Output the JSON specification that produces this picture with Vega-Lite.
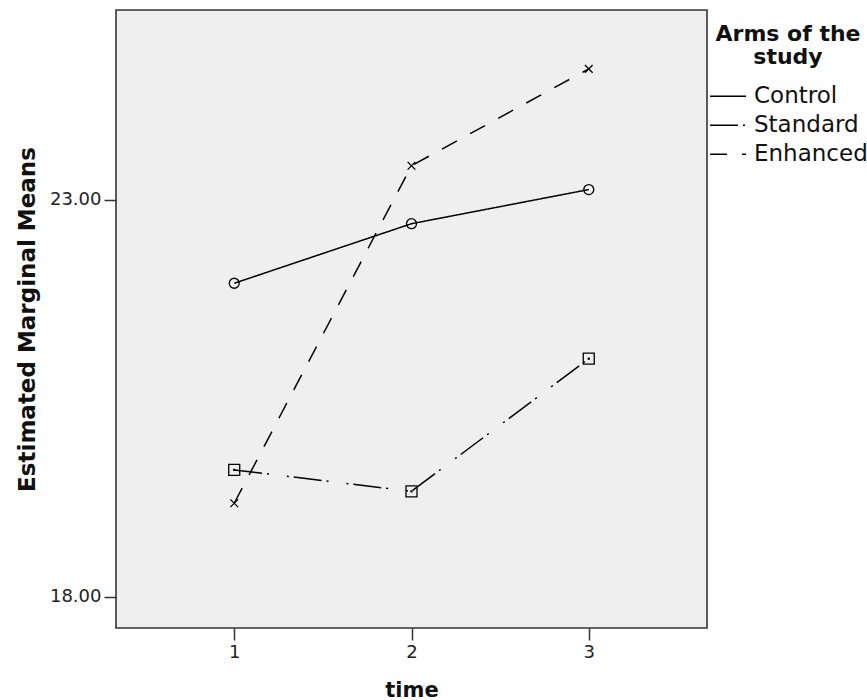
{
  "$schema": "https://vega.github.io/schema/vega-lite/v6.json",
  "autosize": {"type": "none"},
  "padding": {"left": 116, "top": 10, "right": 160, "bottom": 72},
  "width": 591,
  "height": 618,
  "background": "white",
  "config": {
    "view": {"fill": "#efefef", "stroke": "#333333", "strokeWidth": 1.6},
    "font": "DejaVu Sans"
  },
  "data": {
    "values": [
      {"time": 1, "arm": "Control", "mean": 21.95},
      {"time": 2, "arm": "Control", "mean": 22.70},
      {"time": 3, "arm": "Control", "mean": 23.13},
      {"time": 1, "arm": "Standard", "mean": 19.60},
      {"time": 2, "arm": "Standard", "mean": 19.33},
      {"time": 3, "arm": "Standard", "mean": 21.00},
      {"time": 1, "arm": "Enhanced", "mean": 19.18},
      {"time": 2, "arm": "Enhanced", "mean": 23.43},
      {"time": 3, "arm": "Enhanced", "mean": 24.65}
    ]
  },
  "encoding": {
    "x": {
      "field": "time",
      "type": "quantitative",
      "scale": {"domain": [0.333, 3.667], "nice": false, "zero": false},
      "axis": {
        "values": [1, 2, 3],
        "format": "d",
        "labelAngle": 0,
        "domain": false,
        "grid": false,
        "tickSize": 12,
        "tickWidth": 1.5,
        "tickColor": "#333333",
        "labelFontSize": 18,
        "labelPadding": 3,
        "labelColor": "#222222",
        "title": "time",
        "titleFontSize": 21,
        "titleFontWeight": "bold",
        "titleColor": "#111111",
        "titlePadding": 18
      }
    },
    "y": {
      "field": "mean",
      "type": "quantitative",
      "scale": {"domain": [17.609, 25.391], "nice": false, "zero": false},
      "axis": {
        "values": [18, 23],
        "format": ".2f",
        "domain": false,
        "grid": false,
        "tickSize": 12,
        "tickWidth": 1.5,
        "tickColor": "#333333",
        "labelFontSize": 18,
        "labelPadding": 3,
        "labelColor": "#222222",
        "title": "Estimated Marginal Means",
        "titleFontSize": 23,
        "titleFontWeight": "bold",
        "titleColor": "#111111",
        "titlePadding": 10
      }
    }
  },
  "layer": [
    {
      "mark": {"type": "line", "color": "black", "strokeWidth": 1.5},
      "encoding": {
        "strokeDash": {
          "field": "arm",
          "type": "nominal",
          "sort": ["Control", "Standard", "Enhanced"],
          "scale": {
            "domain": ["Control", "Standard", "Enhanced"],
            "range": [[1, 0], [28, 5, 2, 18, 2, 5], [17, 15]]
          },
          "legend": {
            "orient": "none",
            "legendX": 593,
            "legendY": 14,
            "padding": 0,
            "title": ["Arms of the", "study"],
            "titleFontSize": 22,
            "titleFontWeight": "bold",
            "titleColor": "#111111",
            "titleAlign": "center",
            "titleAnchor": "middle",
            "titleLineHeight": 23,
            "titlePadding": 13,
            "labelFontSize": 23,
            "labelColor": "#111111",
            "labelOffset": 7,
            "symbolType": "stroke",
            "symbolSize": 1296,
            "symbolStrokeWidth": 1.5,
            "symbolStrokeColor": "black",
            "clipHeight": 28.5,
            "rowPadding": 0
          }
        }
      }
    },
    {
      "mark": {"type": "point", "filled": false, "color": "black", "strokeWidth": 1.3, "opacity": 1},
      "encoding": {
        "shape": {
          "condition": [
            {"test": "datum.arm === 'Control'", "value": "circle"},
            {"test": "datum.arm === 'Standard'", "value": "square"}
          ],
          "value": "M-1,-1L1,1M-1,1L1,-1"
        },
        "size": {
          "condition": [
            {"test": "datum.arm === 'Control'", "value": 100},
            {"test": "datum.arm === 'Standard'", "value": 121}
          ],
          "value": 60
        }
      }
    },
    {
      "transform": [{"filter": "datum.arm === 'Standard'"}],
      "mark": {"type": "square", "size": 5, "color": "black", "opacity": 1}
    }
  ]
}
